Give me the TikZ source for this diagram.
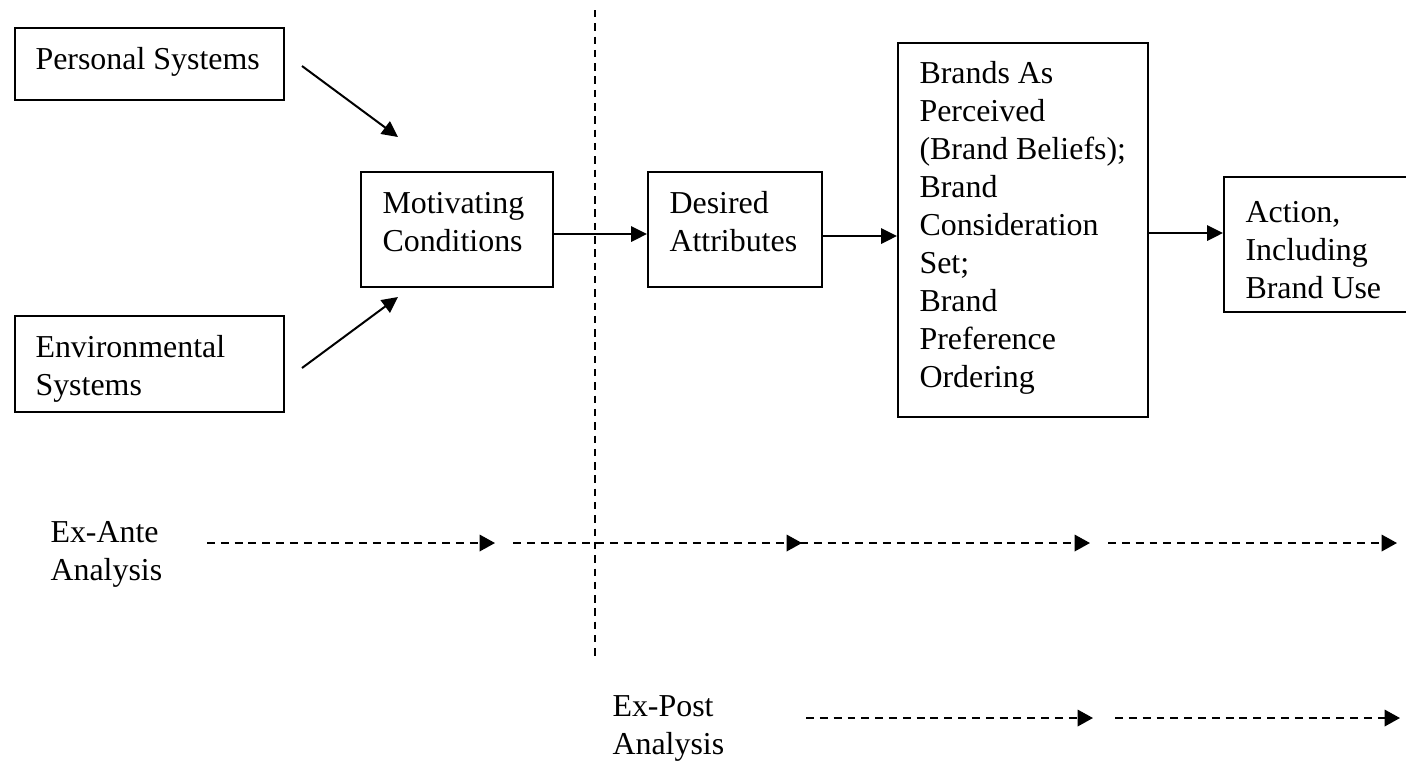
\documentclass[tikz,border=0pt]{standalone}
\usepackage{fontspec}
\setmainfont{Liberation Serif}
\usetikzlibrary{arrows.meta,fit}
\newcommand{\mylines}[1]{\begin{tabular}[t]{@{}l@{}}#1\end{tabular}}
\begin{document}
\begin{tikzpicture}[x=0.376pt,y=-0.376pt,
  box/.style={draw, line width=0.75pt, inner sep=0pt},
  txt/.style={anchor=base west, inner sep=0pt, font=\fontsize{12}{14.3}\selectfont},
  arr/.style={line width=0.75pt, -{Triangle[length=6pt,width=5.8pt]}},
  darr/.style={line width=0.75pt, dash pattern=on 3pt off 2.2pt, -{Triangle[length=5.8pt,width=6.2pt]}},
  vdash/.style={line width=0.75pt, dash pattern=on 2.8pt off 2.2pt}]
\useasboundingbox (0,0) rectangle (1406,764);

% boxes
\node[box, fit={(15,28)(284,100)}] (ps) {};
\node[box, fit={(15,316)(284,412)}] (es) {};
\node[box, fit={(361,172)(553,287)}] (mc) {};
\node[box, fit={(648,172)(822,287)}] (da) {};
\node[box, fit={(898,43)(1148,417)}] (bb) {};
\node[box, fit={(1224,177)(1440,312)}] (ac) {};

% texts
\node[txt] (pst) at (35,69) {Personal Systems};
\node[txt] (est) at (35,357) {\mylines{Environmental\\Systems}};
\node[txt] (mct) at (382,213) {\mylines{Motivating\\Conditions}};
\node[txt] (dat) at (669,213) {\mylines{Desired\\Attributes}};
\node[txt] (bbt) at (919,83) {\mylines{Brands As\\Perceived\\(Brand Beliefs);\\Brand\\Consideration\\Set;\\Brand\\Preference\\Ordering}};
\node[txt] (act) at (1245,222) {\mylines{Action,\\Including\\Brand Use}};
\node[txt] (eat) at (50,542) {\mylines{Ex-Ante\\Analysis}};
\node[txt] (ept) at (612,716) {\mylines{Ex-Post\\Analysis}};

% solid arrows
\coordinate (p1) at (302,66);
\coordinate (p2) at (398,137);
\coordinate (e1) at (302,368);
\coordinate (e2) at (398,297);
\draw[arr] (p1) -- (p2);
\draw[arr] (e1) -- (e2);
\coordinate (y1) at (0,234);
\coordinate (y2) at (0,236);
\coordinate (y3) at (0,233);
\draw[arr] (mc.east |- y1) -- (da.west |- y1);
\draw[arr] (da.east |- y2) -- (bb.west |- y2);
\draw[arr] (bb.east |- y3) -- (ac.west |- y3);

% vertical dashed divider
\coordinate (v1) at (595,10);
\coordinate (v2) at (595,657);
\draw[vdash] (v1) -- (v2);

% ex-ante dashed arrows
\coordinate (a1s) at (207,543); \coordinate (a1e) at (495,543);
\coordinate (a2s) at (513,543); \coordinate (a2e) at (802,543);
\coordinate (a3s) at (800,543); \coordinate (a3e) at (1090,543);
\coordinate (a4s) at (1108,543); \coordinate (a4e) at (1397,543);
\draw[darr] (a1s) -- (a1e);
\draw[darr] (a2s) -- (a2e);
\draw[darr] (a3s) -- (a3e);
\draw[darr] (a4s) -- (a4e);

% ex-post dashed arrows
\coordinate (b1s) at (806,718); \coordinate (b1e) at (1093,718);
\coordinate (b2s) at (1115,718); \coordinate (b2e) at (1400,718);
\draw[darr] (b1s) -- (b1e);
\draw[darr] (b2s) -- (b2e);
\end{tikzpicture}
\end{document}
